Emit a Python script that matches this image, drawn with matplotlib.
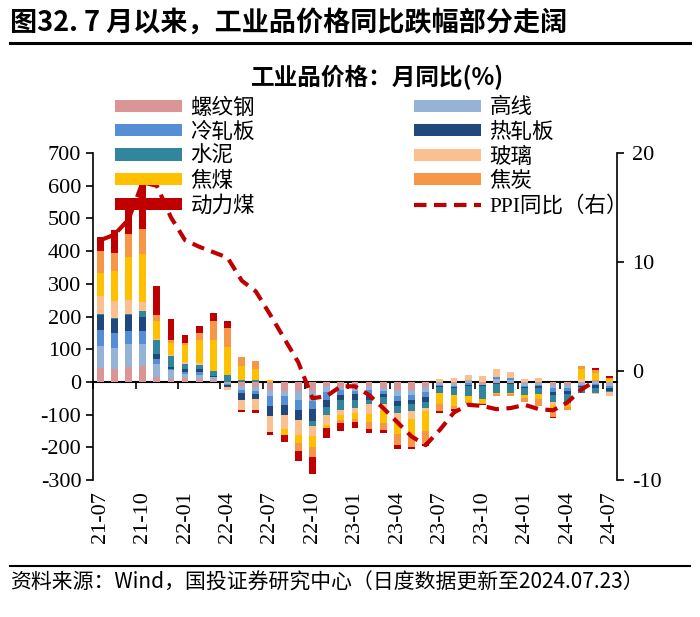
import numpy as np
import pandas as pd
import matplotlib
matplotlib.use('Agg')
import matplotlib.pyplot as plt
from matplotlib.patches import Patch
from matplotlib.lines import Line2D

plt.rcParams['font.family'] = ['Liberation Serif', 'Noto Sans CJK SC']
plt.rcParams['axes.unicode_minus'] = False

# 月份
months = [p.strftime('%y-%m') for p in pd.period_range('2021-07', '2024-07', freq='M')]

# 各品种月同比 (%)
luowengang = [42, 40, 46, 48, 16, 8, 11, 9, 6, -3, -12, -14, -24, -27, -28, -29, -12, -14, -19,
              -12, -18, -24, -24, -15, -3, -3, -3, -5, -3, -3, -3, -3, -10, -10, -3, 5, -3]
gaoxian = [67, 65, 69, 67, 38, 27, 12, 12, 8, -3, -12, -15, -20, -17, -28, -30, -20, -10, -8,
           -12, -10, -20, -15, -15, -5, -8, 6, -5, 10, 6, -8, -5, -10, -8, -5, -5, -8]
lengzha = [49, 45, 42, 42, 15, 4, 8, 10, 2, -3, -10, -8, -29, -28, -30, -25, -22, -15, -10,
           -15, -8, -15, -15, -15, -5, -5, -5, 0, 6, 5, -5, -5, -12, -10, -5, -5, -8]
rezha = [47, 42, 49, 42, 15, 6, 8, 7, 2, -7, -20, -15, -31, -28, -30, -35, -22, -15, -19,
         -15, -10, -15, -15, -15, -3, -3, -5, -3, -2, -3, -3, -5, -8, -10, -3, -8, -8]
shuini = [3, 2, 2, 17, 44, 35, 17, 13, 16, 20, 7, 6, 0, 0, 0, -15, -26, -31, -23,
          -15, -20, -20, -20, -20, -18, -20, -30, -40, -28, -28, -20, -20, -22, -25, -18, -15, -5]
boli = [54, 52, 43, 29, 3, 2, 5, 7, 0, -9, -31, -35, -48, -44, -45, -30, -30, -15, -15,
        -30, -20, -25, -25, -10, 8, 13, 14, 18, 22, 18, 10, 11, -8, -5, 8, -3, -10]
jiaomei = [72, 94, 130, 146, 54, 36, 51, 71, 95, 87, 41, 33, 5, -18, -25, -35, -8, -15, -20,
           -25, -40, -40, -50, -60, -35, -35, -17, -12, -3, -2, -10, -15, -18, -8, 30, 22, 10]
jiaotan = [67, 54, 70, 78, 20, 11, 7, 21, 58, 57, 28, 26, 0, 0, -25, -30, 0, -10, -8,
           -20, -20, -35, -35, -40, -20, -10, -5, -3, -7, -8, -12, -20, -18, -10, 10, 10, 2]
dongli = [42, 70, 94, 153, 89, 63, 26, 20, 23, 21, -8, -8, -11, -22, -30, -52, -32, -26, -20,
          -12, -10, -12, -5, -5, -5, -5, 0, -3, 0, 0, 0, 0, -4, 0, 0, 5, 5]

# PPI同比（右轴）
ppi = [12.0, 12.5, 13.9, 17.3, 17.0, 14.1, 12.0, 11.4, 10.9, 10.4, 8.3, 7.3, 5.2, 3.0, 0.8,
       -2.5, -2.3, -1.4, -1.4, -2.2, -3.4, -4.7, -6.0, -6.8, -5.4, -3.8, -3.1, -3.2, -3.5,
       -3.4, -3.1, -3.5, -3.6, -2.9, -1.7, -0.9, np.nan]

series = [
    ('螺纹钢', luowengang, '#D99694'),
    ('高线', gaoxian, '#95B3D7'),
    ('冷轧板', lengzha, '#558ED5'),
    ('热轧板', rezha, '#1F497D'),
    ('水泥', shuini, '#31859C'),
    ('玻璃', boli, '#FAC090'),
    ('焦煤', jiaomei, '#FFC000'),
    ('焦炭', jiaotan, '#F79646'),
    ('动力煤', dongli, '#C00000'),
]

x = np.arange(len(months))

fig = plt.figure(figsize=(7, 6.17), dpi=100)
ax = fig.add_axes([0.133, 0.222, 0.748, 0.53])

pos_bottom = np.zeros(len(x))
neg_bottom = np.zeros(len(x))
handles = {}
for name, vals, color in series:
    v = np.array(vals, dtype=float)
    pos = np.where(v > 0, v, 0)
    neg = np.where(v < 0, v, 0)
    ax.bar(x, pos, 0.48, bottom=pos_bottom, color=color, linewidth=0)
    ax.bar(x, neg, 0.48, bottom=neg_bottom, color=color, linewidth=0)
    pos_bottom += pos
    neg_bottom += neg
    handles[name] = Patch(facecolor=color, edgecolor='none')

ax.set_xlim(-0.5, len(x) - 0.5)
ax.set_ylim(-300, 700)
ax.set_yticks(range(-300, 701, 100))
ax.set_xticks(x[::3])
ax.set_xticklabels(months[::3], rotation=90, fontsize=16)
ax.tick_params(axis='x', length=0, pad=8)
ax.tick_params(axis='y', labelsize=16, direction='out', length=5, width=1.2)
for s in ['top', 'bottom', 'right']:
    ax.spines[s].set_visible(False)
ax.spines['left'].set_linewidth(1.2)

# 零轴
zero_ax = ax.secondary_xaxis(0.3)
zero_ax.set_xticks(np.arange(-0.5, len(x), 3))
zero_ax.set_xticklabels([])
zero_ax.tick_params(direction='out', length=5, width=1.2)
zero_ax.spines['bottom'].set_linewidth(1.5)

ax2 = ax.twinx()
ax2.plot(x, ppi, color='#C00000', linewidth=3, linestyle=(0, (3, 1.8)))
ax2.set_ylim(-10, 20)
ax2.set_yticks([-10, 0, 10, 20])
ax2.tick_params(axis='y', labelsize=16, direction='out', length=5, width=1.2, pad=6)
for s in ['top', 'bottom', 'left']:
    ax2.spines[s].set_visible(False)
ax2.spines['right'].set_linewidth(1.2)

handles['PPI同比（右）'] = Line2D([], [], color='#C00000', linewidth=3, linestyle=(0, (3, 1.8)))
order = ['螺纹钢', '冷轧板', '水泥', '焦煤', '动力煤', '高线', '热轧板', '玻璃', '焦炭', 'PPI同比（右）']
fig.legend([handles[k] for k in order], order, ncol=2, loc='upper left',
           bbox_to_anchor=(115 / 700, 1 - 98 / 617), frameon=False,
           handlelength=3.1, handleheight=0.5, handletextpad=0.4, columnspacing=7.4,
           labelspacing=0.2, borderpad=0, borderaxespad=0,
           prop={'family': ['Liberation Serif', 'Noto Sans CJK SC'], 'size': 15.5})

fig.text(0.54, 0.875, '工业品价格：月同比(%)', ha='center', va='center', fontsize=17,
         fontweight='bold', family=['Noto Sans CJK SC'])

fig.text(0.014, 0.964, '图32. 7 月以来，工业品价格同比跌幅部分走阔', ha='left', va='center',
         fontsize=19.5, fontweight='bold', family=['Noto Sans CJK SC'])
fig.add_artist(Line2D([0.014, 0.986], [0.930, 0.930], transform=fig.transFigure,
                      color='black', linewidth=2.2))
fig.add_artist(Line2D([0.014, 0.986], [0.082, 0.082], transform=fig.transFigure,
                      color='black', linewidth=1.5))
fig.text(0.014, 0.056, '资料来源：Wind，国投证券研究中心（日度数据更新至2024.07.23）', ha='left',
         va='center', fontsize=15, style='italic', family=['Noto Sans CJK SC'])

fig.savefig('out.png', dpi=100)
